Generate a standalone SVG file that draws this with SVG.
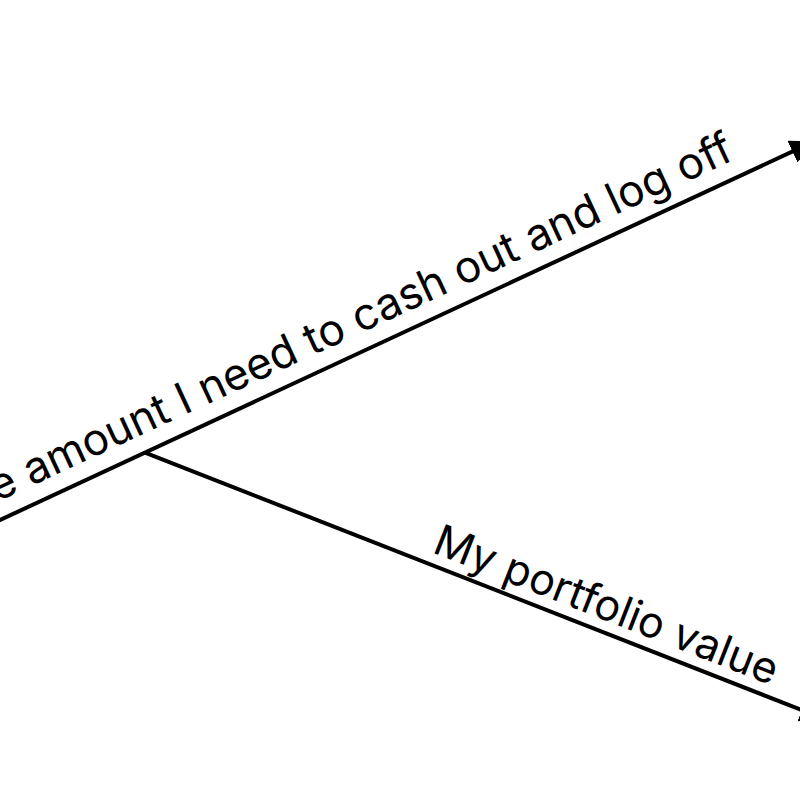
<svg xmlns="http://www.w3.org/2000/svg" width="800" height="800" viewBox="0 0 800 800">
  <style>
    .edge { stroke: #000; stroke-width: 4; fill: none; }
    .lbl { font-family: Inter, "Noto Sans", "Liberation Sans", sans-serif; font-size: 44px; fill: #000; }
    .lbl2 { font-size: 43px; }
  </style>
  <defs>
    <marker id="arrow" viewBox="0 0 10 10" refX="9" refY="5" markerWidth="6" markerHeight="6" markerUnits="strokeWidth" orient="auto">
      <path d="M0,0 L10,5 L0,10 z" fill="#000"/>
    </marker>
  </defs>
  <rect width="800" height="800" fill="#fff"/>
  <g id="connectors">
    <path id="edge1" class="edge" d="M-20,529.3 L812,142.4" marker-end="url(#arrow)"/>
    <path id="edge2" class="edge" d="M145,452.6 L822,718" marker-end="url(#arrow)"/>
  </g>
  <g id="labels">
    <text class="lbl" text-anchor="end" transform="translate(736,159) rotate(-24.9)">The amount I need to cash out and log off</text>
    <text class="lbl lbl2" transform="translate(431,552) rotate(21.4)">My portfolio value</text>
  </g>
</svg>
